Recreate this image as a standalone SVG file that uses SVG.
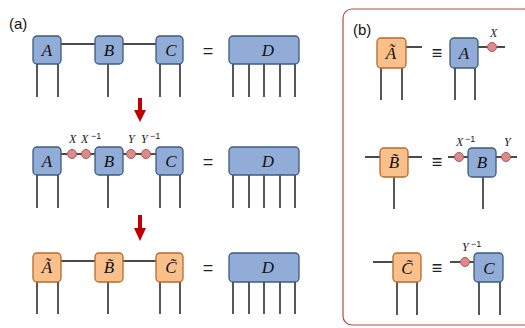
<svg xmlns="http://www.w3.org/2000/svg" width="525" height="328" viewBox="0 0 525 328">
<style>
.bl{fill:#91acd6;stroke:#3c5a80;stroke-width:1.3}
.or{fill:#f9c08c;stroke:#b8692a;stroke-width:1.3}
.ln{stroke:#111;stroke-width:1.4;fill:none}
.dot{fill:#dd8a8c;stroke:#a8585a;stroke-width:1}
.lab{font-family:"Liberation Serif",serif;font-style:italic;font-size:17px;fill:#111;text-anchor:middle}
.sm{font-family:"Liberation Serif",serif;font-style:italic;font-size:12px;fill:#222}
.sup{font-family:"Liberation Sans",sans-serif;font-size:9px;fill:#222}
.eq{font-family:"Liberation Sans",sans-serif;font-size:18px;fill:#222;text-anchor:middle}
.pl{font-family:"Liberation Sans",sans-serif;font-size:15px;fill:#111}
.arr{fill:#c00000}
</style>
<rect width="525" height="328" fill="#fff"/>
<text class="pl" x="9" y="29">(a)</text>
<rect x="343" y="9" width="190" height="316" rx="9" fill="none" stroke="#b5494a" stroke-width="1.2"/>
<text class="pl" x="353" y="35">(b)</text>

<g id="connectors">
  <!-- row 1 -->
  <path class="ln" d="M61 44H95M123 44H156"/>
  <path class="ln" d="M37 64V97M58 64V97M108 64V97M160 64V97M180 64V97"/>
  <path class="ln" d="M233 64V97M249 64V97M264 64V97M280 64V97M295 64V97"/>
  <!-- row 2 -->
  <path class="ln" d="M61 154H95M123 154H156"/>
  <path class="ln" d="M37 175V208M58 175V208M108 175V208M160 175V208M180 175V208"/>
  <path class="ln" d="M233 175V208M249 175V208M264 175V208M280 175V208M295 175V208"/>
  <!-- row 3 -->
  <path class="ln" d="M61 261H95M123 261H156"/>
  <path class="ln" d="M37 282V314M58 282V314M108 282V314M160 282V314M180 282V314"/>
  <path class="ln" d="M233 282V314M249 282V314M264 282V314M280 282V314M295 282V314"/>
  <!-- panel b -->
  <path class="ln" d="M406 47H422M381 68V100M402 68V100"/>
  <path class="ln" d="M478 47H505M455 68V100M475 68V100"/>
  <path class="ln" d="M365 157H380M408 157H422M394 177V209"/>
  <path class="ln" d="M448 157H468M496 157H517M483 177V209"/>
  <path class="ln" d="M373 262H393M397 282V315M417 282V315"/>
  <path class="ln" d="M450 262H474M479 282V315M500 282V315"/>
</g>

<g id="arrows">
  <path class="arr" d="M138 98H142V110H146L140 122L134 110H138Z"/>
  <path class="arr" d="M138 215H142V228H146L140 241L134 228H138Z"/>
</g>

<g id="row1">
  <g id="A1"><rect class="bl" x="33" y="36" width="28" height="28" rx="4"/><text class="lab" x="47" y="56">A</text></g>
  <g id="B1"><rect class="bl" x="95" y="36" width="28" height="28" rx="4"/><text class="lab" x="109" y="56">B</text></g>
  <g id="C1"><rect class="bl" x="156" y="36" width="27" height="28" rx="4"/><text class="lab" x="171" y="56">C</text></g>
  <text class="eq" x="208" y="57">=</text>
  <g id="D1"><rect class="bl" x="229" y="36" width="70" height="28" rx="4"/><text class="lab" x="268" y="56">D</text></g>
</g>

<g id="row2">
  <g id="A2"><rect class="bl" x="33" y="147" width="28" height="28" rx="4"/><text class="lab" x="47" y="167">A</text></g>
  <g id="B2"><rect class="bl" x="95" y="147" width="28" height="28" rx="4"/><text class="lab" x="109" y="167">B</text></g>
  <g id="C2"><rect class="bl" x="156" y="147" width="27" height="28" rx="4"/><text class="lab" x="171" y="167">C</text></g>
  <text class="eq" x="208" y="168">=</text>
  <g id="D2"><rect class="bl" x="229" y="147" width="70" height="28" rx="4"/><text class="lab" x="268" y="167">D</text></g>
  <g id="X2"><circle class="dot" cx="72" cy="154" r="4.5"/><text class="sm" x="69" y="143">X</text></g>
  <g id="Xi2"><circle class="dot" cx="86" cy="154" r="4.5"/><text class="sm" x="81" y="143">X</text><text class="sup" x="91" y="139">−1</text></g>
  <g id="Y2"><circle class="dot" cx="131" cy="154" r="4.5"/><text class="sm" x="128" y="143">Y</text></g>
  <g id="Yi2"><circle class="dot" cx="146" cy="154" r="4.5"/><text class="sm" x="141" y="143">Y</text><text class="sup" x="150" y="139">−1</text></g>
</g>

<g id="row3">
  <g id="At3"><rect class="or" x="33" y="253" width="28" height="29" rx="4"/><text class="lab" x="47" y="273">Ã</text></g>
  <g id="Bt3"><rect class="or" x="95" y="253" width="28" height="29" rx="4"/><text class="lab" x="109" y="273">B̃</text></g>
  <g id="Ct3"><rect class="or" x="156" y="253" width="27" height="29" rx="4"/><text class="lab" x="171" y="273">C̃</text></g>
  <text class="eq" x="208" y="274">=</text>
  <g id="D3"><rect class="bl" x="229" y="253" width="70" height="29" rx="4"/><text class="lab" x="268" y="273">D</text></g>
</g>

<g id="panelb">
  <g id="bAt"><rect class="or" x="377" y="38" width="29" height="30" rx="4"/><text class="lab" x="391" y="59">Ã</text></g>
  <text class="eq" x="437" y="59">≡</text>
  <g id="bA"><rect class="bl" x="450" y="38" width="28" height="30" rx="4"/><text class="lab" x="464" y="59">A</text></g>
  <g id="bX"><circle class="dot" cx="492" cy="47" r="4.5"/><text class="sm" x="490" y="37">X</text></g>

  <g id="bBt"><rect class="or" x="380" y="148" width="28" height="29" rx="4"/><text class="lab" x="394" y="168">B̃</text></g>
  <text class="eq" x="437" y="168">≡</text>
  <g id="bB"><rect class="bl" x="468" y="148" width="28" height="29" rx="4"/><text class="lab" x="482" y="168">B</text></g>
  <g id="bXi"><circle class="dot" cx="459" cy="157" r="4.5"/><text class="sm" x="456" y="146">X</text><text class="sup" x="465" y="142">−1</text></g>
  <g id="bY"><circle class="dot" cx="506" cy="157" r="4.5"/><text class="sm" x="504" y="146">Y</text></g>

  <g id="bCt"><rect class="or" x="393" y="253" width="28" height="29" rx="4"/><text class="lab" x="407" y="274">C̃</text></g>
  <text class="eq" x="437" y="274">≡</text>
  <g id="bC"><rect class="bl" x="474" y="253" width="29" height="29" rx="4"/><text class="lab" x="489" y="274">C</text></g>
  <g id="bYi"><circle class="dot" cx="465" cy="262" r="4.5"/><text class="sm" x="462" y="251">Y</text><text class="sup" x="471" y="247">−1</text></g>
</g>
</svg>
